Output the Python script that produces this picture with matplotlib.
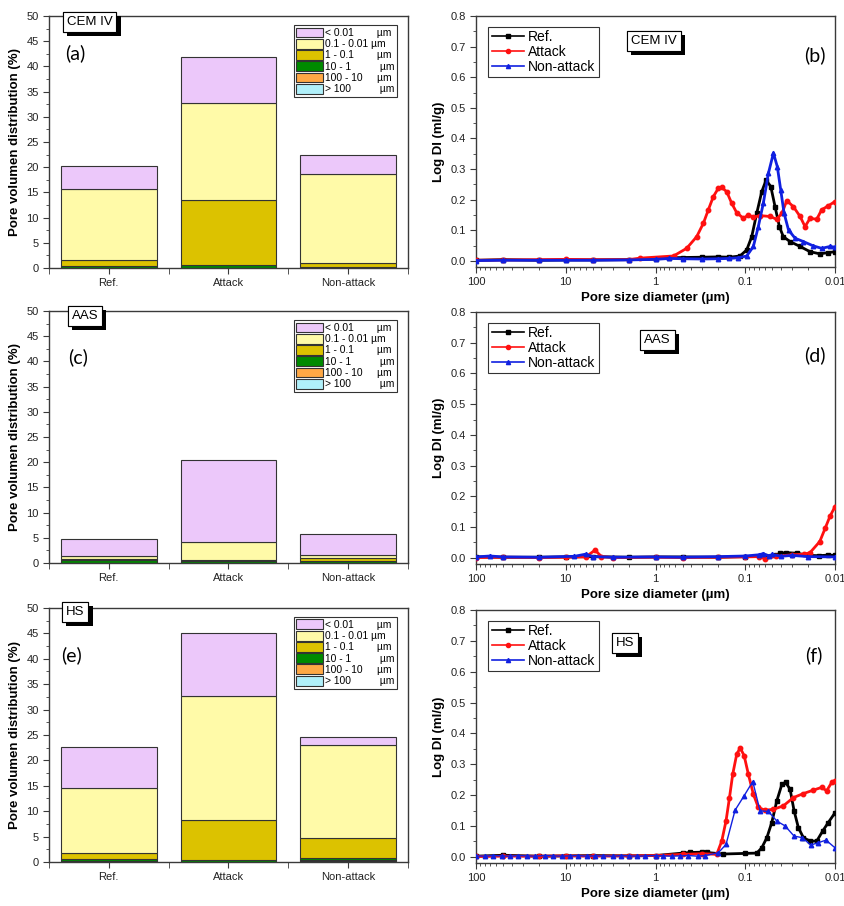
import numpy as np
import matplotlib
matplotlib.use('Agg')
import matplotlib.pyplot as plt
import matplotlib.patheffects as pe
from matplotlib.patches import Patch
from matplotlib.lines import Line2D
from matplotlib.ticker import FixedLocator, FixedFormatter, MultipleLocator, LogLocator, NullFormatter

plt.rcParams['font.family'] = ['Liberation Sans', 'DejaVu Sans']

# ---------------------------------------------------------------- bar data
samples = ['Ref.', 'Attack', 'Non-attack']
ranges = ['> 100', '100 - 10', '10 - 1', '1 - 0.1', '0.1 - 0.01', '< 0.01']   # bottom -> top
range_labels = ['> 100          µm', '100 - 10     µm', '10 - 1          µm',
                '1 - 0.1        µm', '0.1 - 0.01 µm', '< 0.01        µm']
range_colors = ['#b0f0fa', '#ffa845', '#008a00', '#dcc200', '#fffaa8', '#ecc8fa']

# rows: ranges (bottom -> top), columns: Ref., Attack, Non-attack
cem_bars = [[0.0, 0.0, 0.0],
            [0.05, 0.05, 0.05],
            [0.25, 0.55, 0.15],
            [1.35, 12.8, 0.7],
            [14.0, 19.4, 17.7],
            [4.6, 9.1, 3.9]]
aas_bars = [[0.0, 0.0, 0.0],
            [0.05, 0.05, 0.05],
            [0.45, 0.3, 0.4],
            [0.2, 0.15, 0.45],
            [0.6, 3.75, 0.6],
            [3.5, 16.2, 4.2]]
hs_bars = [[0.0, 0.0, 0.1],
           [0.1, 0.05, 0.3],
           [0.55, 0.25, 0.4],
           [1.15, 8.05, 4.0],
           [12.7, 24.35, 18.3],
           [8.2, 12.3, 1.4]]

# ---------------------------------------------------------------- curve data
cem_ref_d = [100, 50, 20, 10, 5, 2, 1, 0.7, 0.5, 0.3, 0.2, 0.15, 0.1145, 0.0964, 0.0848, 0.0745,
             0.0656, 0.0587, 0.052, 0.0466, 0.0417, 0.0377, 0.0317, 0.0245, 0.019, 0.0148, 0.0119, 0.01]
cem_ref_y = [0.002, 0.004, 0.002, 0.003, 0.003, 0.004, 0.006, 0.010, 0.011, 0.012, 0.013, 0.012, 0.016,
             0.036, 0.079, 0.156, 0.226, 0.264, 0.243, 0.177, 0.112, 0.079, 0.063, 0.047, 0.030,
             0.023, 0.027, 0.030]
cem_att_d = [100, 50, 20, 10, 5, 2, 1.49, 0.63, 0.45, 0.348, 0.293, 0.258, 0.227, 0.20, 0.183, 0.161,
             0.1416, 0.125, 0.105, 0.0925, 0.0813, 0.0685, 0.053, 0.0446, 0.039, 0.0345, 0.0291,
             0.0245, 0.0216, 0.019, 0.016, 0.0141, 0.0119, 0.01]
cem_att_y = [0.002, 0.003, 0.004, 0.005, 0.004, 0.004, 0.009, 0.016, 0.041, 0.079, 0.123, 0.167, 0.21,
             0.237, 0.24, 0.226, 0.188, 0.158, 0.139, 0.150, 0.143, 0.148, 0.145, 0.136, 0.156, 0.197,
             0.177, 0.145, 0.112, 0.139, 0.136, 0.167, 0.18, 0.194]
cem_non_d = [100, 50, 20, 10, 5, 2, 1, 0.7, 0.5, 0.3, 0.2, 0.15, 0.12, 0.0964, 0.0813, 0.0716, 0.063,
             0.0553, 0.0486, 0.044, 0.0403, 0.037, 0.033, 0.0279, 0.0225, 0.0175, 0.0141, 0.0114, 0.01]
cem_non_y = [0.001, 0.002, 0.002, 0.002, 0.002, 0.003, 0.005, 0.008, 0.007, 0.006, 0.007, 0.008, 0.010,
             0.016, 0.047, 0.112, 0.188, 0.286, 0.352, 0.308, 0.232, 0.156, 0.101, 0.074, 0.063,
             0.049, 0.041, 0.047, 0.045]

aas_ref_d = [100, 50, 20, 10, 5, 2, 1, 0.5, 0.2, 0.1, 0.06, 0.045, 0.041, 0.035, 0.0265, 0.02, 0.015,
             0.012, 0.01]
aas_ref_y = [0.003, 0.002, 0.002, 0.003, 0.004, 0.002, 0.003, 0.003, 0.002, 0.004, 0.006, 0.008, 0.015,
             0.017, 0.015, 0.008, 0.007, 0.009, 0.008]
aas_att_d = [100, 50, 20, 10, 6, 4.72, 4, 3, 1, 0.5, 0.2, 0.1, 0.07, 0.06, 0.045, 0.03, 0.022, 0.019,
             0.0148, 0.0129, 0.0114, 0.01]
aas_att_y = [0.001, 0.002, 0.001, 0.002, 0.003, 0.025, 0.004, 0.001, 0.002, 0.001, 0.002, 0.003, 0.004,
             -0.003, 0.005, 0.010, 0.012, 0.017, 0.053, 0.096, 0.135, 0.167]
aas_non_d = [100, 70, 50, 20, 8, 6, 5, 3, 1, 0.5, 0.2, 0.1, 0.07, 0.063, 0.055, 0.05, 0.04, 0.03, 0.02,
             0.01]
aas_non_y = [0.003, 0.006, 0.003, 0.002, 0.005, 0.012, 0.004, 0.002, 0.003, 0.002, 0.004, 0.006, 0.010,
             0.014, 0.006, 0.011, 0.005, 0.008, 0.004, 0.003]

hs_ref_d = [100, 50, 20, 10, 5, 2, 1, 0.5, 0.41, 0.3, 0.27, 0.176, 0.1, 0.0745, 0.0656, 0.0575, 0.0507,
            0.0446, 0.039, 0.0355, 0.0317, 0.0286, 0.0256, 0.0225, 0.019, 0.016, 0.0137, 0.0119, 0.01]
hs_ref_y = [0.002, 0.005, 0.002, 0.003, 0.004, 0.003, 0.004, 0.012, 0.014, 0.015, 0.014, 0.009, 0.011,
            0.012, 0.029, 0.062, 0.111, 0.181, 0.236, 0.241, 0.219, 0.149, 0.094, 0.062, 0.051,
            0.051, 0.084, 0.111, 0.143]
hs_att_d = [100, 50, 20, 10, 5, 2, 1, 0.5, 0.3, 0.208, 0.183, 0.164, 0.150, 0.138, 0.1245, 0.114, 0.103,
            0.0925, 0.0813, 0.0716, 0.0603, 0.0486, 0.0377, 0.0291, 0.0225, 0.0175, 0.0141, 0.0124,
            0.0109, 0.01]
hs_att_y = [0.001, 0.002, 0.002, 0.003, 0.002, 0.003, 0.004, 0.008, 0.010, 0.008, 0.051, 0.116, 0.192,
            0.268, 0.333, 0.353, 0.328, 0.268, 0.203, 0.16, 0.151, 0.154, 0.165, 0.192, 0.205, 0.216,
            0.225, 0.214, 0.241, 0.246]
hs_non_d = [100, 80, 65, 52, 42, 34, 27, 22, 17, 14, 11, 9, 7.3, 5.8, 4.7, 3.8, 3.0, 2.4, 2.0, 1.6, 1.3,
            1.0, 0.82, 0.66, 0.53, 0.43, 0.34, 0.28, 0.2, 0.164, 0.13, 0.103, 0.0826, 0.0685, 0.0553,
            0.0446, 0.036, 0.0286, 0.0231, 0.0187, 0.0153, 0.0126, 0.01]
hs_non_y = [0.003, 0.002, 0.004, 0.003, 0.002, 0.004, 0.003, 0.002, 0.004, 0.003, 0.002, 0.003, 0.004,
            0.002, 0.003, 0.003, 0.002, 0.004, 0.003, 0.002, 0.003, 0.004, 0.003, 0.002, 0.003, 0.004,
            0.002, 0.004, 0.013, 0.040, 0.151, 0.198, 0.244, 0.149, 0.147, 0.116, 0.100, 0.067, 0.062,
            0.038, 0.046, 0.054, 0.029]

series_names = ['Ref.', 'Attack', 'Non-attack']
series_colors = ['black', '#ff1010', '#1020e0']
series_markers = ['s', 'o', '^']

size_ticks = [100, 10, 1, 0.1, 0.01]
size_tick_labels = ['100', '10', '1', '0.1', '0.01']

spine_col = '#3a3a3a'


def style_axes(ax):
    for s in ax.spines.values():
        s.set_color(spine_col)
        s.set_linewidth(1.0)
    ax.tick_params(which='both', direction='out', colors=spine_col, labelcolor='#222222',
                   labelsize=8, top=False, right=False)
    ax.tick_params(which='major', length=4)
    ax.tick_params(which='minor', length=2.5)


def sample_box(ax, x, y, text):
    t = ax.text(x, y, text, transform=ax.transAxes, ha='center', va='center', fontsize=9.5,
                zorder=20, bbox=dict(boxstyle='square,pad=0.3', fc='white', ec='black', lw=0.8))
    t.get_bbox_patch().set_path_effects([
        pe.withSimplePatchShadow(offset=(3, -3), shadow_rgbFace='black', alpha=1.0), pe.Normal()])


def bar_panel(ax, data, name, letter, name_xy, letter_xy):
    x = np.arange(1, 4)
    bottom = np.zeros(3)
    handles = []
    for vals, col, lab in zip(data, range_colors, range_labels):
        ax.bar(x, vals, width=0.8, bottom=bottom, color=col, edgecolor='#333333', linewidth=0.8)
        bottom += np.array(vals)
        handles.append(Patch(facecolor=col, edgecolor='#333333', linewidth=0.8, label=lab))
    ax.set_xlim(0.5, 3.5)
    ax.set_ylim(0, 50)
    ax.xaxis.set_major_locator(FixedLocator([1, 2, 3]))
    ax.xaxis.set_major_formatter(FixedFormatter(samples))
    ax.xaxis.set_minor_locator(FixedLocator([0.5, 1.5, 2.5, 3.5]))
    ax.yaxis.set_major_locator(MultipleLocator(5))
    ax.yaxis.set_minor_locator(MultipleLocator(2.5))
    style_axes(ax)
    ax.tick_params(axis='x', which='minor', length=4)
    ax.set_ylabel('Pore volumen distribution (%)', fontsize=9.5, fontweight='bold')
    leg = ax.legend(handles=handles[::-1], loc='upper right', fontsize=7.4, frameon=True,
                    fancybox=False, edgecolor='black', handlelength=2.6, handleheight=1.1,
                    labelspacing=0.08, handletextpad=0.25, borderpad=0.25,
                    bbox_to_anchor=(0.985, 0.985))
    leg.get_frame().set_linewidth(0.8)
    sample_box(ax, name_xy[0], name_xy[1], name)
    ax.text(letter_xy[0], letter_xy[1], letter, transform=ax.transAxes, fontsize=14,
            family=['Lato', 'DejaVu Sans'], va='center', ha='left')


def curve_panel(ax, curves, name, letter, name_xy, letter_xy, widths):
    for (d, y), nm, col, mk, lw in zip(curves, series_names, series_colors, series_markers, widths):
        ax.plot(d, y, color=col, marker=mk, markersize=3.2, linewidth=lw, label=nm, zorder=3)
    ax.set_xscale('log')
    ax.set_xlim(100, 0.01)
    ax.set_ylim(-0.02, 0.8)
    ax.xaxis.set_major_locator(FixedLocator(size_ticks))
    ax.xaxis.set_major_formatter(FixedFormatter(size_tick_labels))
    ax.xaxis.set_minor_locator(LogLocator(base=10, subs=np.arange(2, 10)))
    ax.xaxis.set_minor_formatter(NullFormatter())
    ax.yaxis.set_major_locator(MultipleLocator(0.1))
    ax.yaxis.set_minor_locator(MultipleLocator(0.05))
    ax.yaxis.set_major_formatter(plt.FuncFormatter(lambda v, p: f'{v:.1f}'))
    style_axes(ax)
    ax.set_ylabel('Log DI (ml/g)', fontsize=9.5, fontweight='bold')
    ax.set_xlabel('Pore size diameter (µm)', fontsize=9.5, fontweight='bold', labelpad=3)
    handles = [Line2D([0], [0], color=c, marker=m, markersize=3, linewidth=1.2)
               for c, m in zip(series_colors, series_markers)]
    leg = ax.legend(handles, series_names, loc='upper left', fontsize=10, frameon=True,
                    fancybox=False, edgecolor='black', handlelength=2.3, labelspacing=0.05,
                    handletextpad=0.3, borderpad=0.25, bbox_to_anchor=(0.015, 0.985))
    leg.get_frame().set_linewidth(0.8)
    sample_box(ax, name_xy[0], name_xy[1], name)
    ax.text(letter_xy[0], letter_xy[1], letter, transform=ax.transAxes, fontsize=14,
            family=['Lato', 'DejaVu Sans'], va='center', ha='center')


fig = plt.figure(figsize=(8.44, 9.06), dpi=100)

ax_a = fig.add_axes([0.058, 0.7042, 0.4254, 0.2781])
ax_c = fig.add_axes([0.058, 0.3786, 0.4254, 0.2781])
ax_e = fig.add_axes([0.058, 0.0486, 0.4254, 0.2804])
ax_b = fig.add_axes([0.564, 0.7053, 0.4254, 0.2770])
ax_d = fig.add_axes([0.564, 0.3775, 0.4254, 0.2781])
ax_f = fig.add_axes([0.564, 0.0475, 0.4254, 0.2792])

bar_panel(ax_a, cem_bars, 'CEM IV', '(a)', (0.113, 0.978), (0.045, 0.853))
bar_panel(ax_c, aas_bars, 'AAS', '(c)', (0.10, 0.98), (0.053, 0.817))
bar_panel(ax_e, hs_bars, 'HS', '(e)', (0.073, 0.984), (0.034, 0.815))

curve_panel(ax_b, [(cem_ref_d, cem_ref_y), (cem_att_d, cem_att_y), (cem_non_d, cem_non_y)],
            'CEM IV', '(b)', (0.496, 0.90), (0.944, 0.845), (2.0, 2.0, 2.0))
curve_panel(ax_d, [(aas_ref_d, aas_ref_y), (aas_att_d, aas_att_y), (aas_non_d, aas_non_y)],
            'AAS', '(d)', (0.505, 0.889), (0.944, 0.83), (2.0, 2.0, 2.0))
curve_panel(ax_f, [(hs_ref_d, hs_ref_y), (hs_att_d, hs_att_y), (hs_non_d, hs_non_y)],
            'HS', '(f)', (0.415, 0.87), (0.94, 0.82), (2.0, 2.0, 1.0))

fig.savefig('out.png', dpi=100)
